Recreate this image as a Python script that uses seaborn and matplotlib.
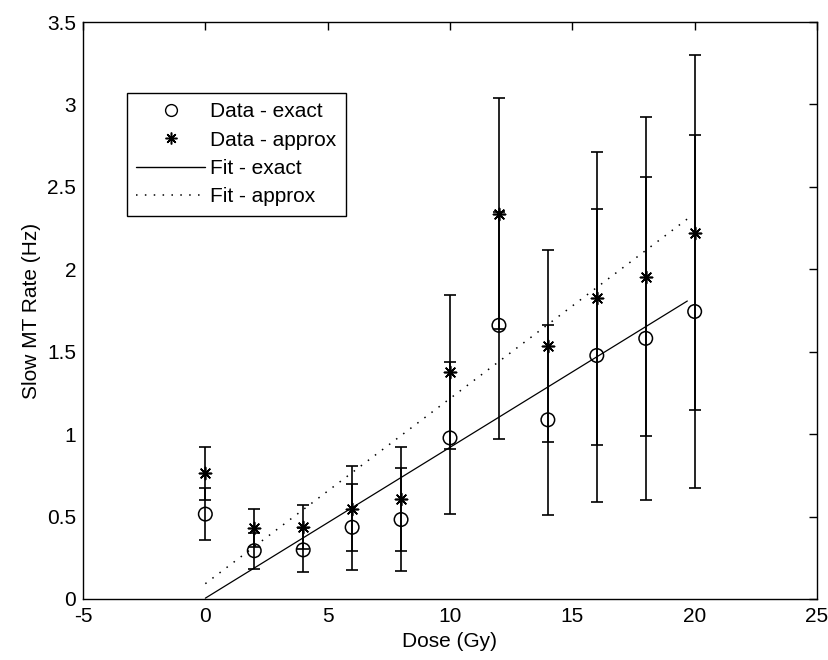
import numpy as np
import pandas as pd
import matplotlib
matplotlib.use("Agg")
import matplotlib.pyplot as plt
from matplotlib.lines import Line2D
import seaborn as sns

# ---- data ----
dose = [0, 2, 4, 6, 8, 10, 12, 14, 16, 18, 20]
rate_exact = [0.515, 0.293, 0.298, 0.435, 0.482, 0.977, 1.660, 1.087, 1.477, 1.581, 1.744]
err_exact = [0.160, 0.108, 0.132, 0.260, 0.315, 0.460, 0.690, 0.575, 0.887, 0.980, 1.070]
rate_approx = [0.763, 0.431, 0.437, 0.548, 0.608, 1.375, 2.338, 1.535, 1.823, 1.956, 2.223]
err_approx = [0.160, 0.114, 0.131, 0.257, 0.315, 0.467, 0.700, 0.583, 0.889, 0.970, 1.075]

fit_dose = [0.0, 19.7]
fit_exact_intercept, fit_exact_slope = 0.005, 0.0915
fit_approx_intercept, fit_approx_slope = 0.093, 0.1123

x_ticks = [-5, 0, 5, 10, 15, 20, 25]
y_ticks = [0, 0.5, 1, 1.5, 2, 2.5, 3, 3.5]
y_tick_labels = ["0", "0.5", "1", "1.5", "2", "2.5", "3", "3.5"]
legend_labels = ["Data - exact", "Data - approx", "Fit - exact", "Fit - approx"]

df = pd.DataFrame({"dose": dose, "exact": rate_exact, "approx": rate_approx,
                   "err_exact": err_exact, "err_approx": err_approx})
fit_df = pd.DataFrame({"dose": fit_dose})
fit_df["exact"] = fit_exact_intercept + fit_exact_slope * fit_df["dose"]
fit_df["approx"] = fit_approx_intercept + fit_approx_slope * fit_df["dose"]

# ---- style ----
sns.set_theme(style="white")
plt.rcParams["font.family"] = ["Liberation Sans", "DejaVu Sans"]
FS = 15
plt.rcParams.update({
    "axes.edgecolor": "black",
    "axes.linewidth": 1.0,
    "xtick.color": "black",
    "ytick.color": "black",
    "text.color": "black",
    "axes.labelcolor": "black",
})

fig = plt.figure(figsize=(8.29, 6.60), dpi=100)
ax = fig.add_axes([83 / 829, 61 / 660, 734 / 829, 577 / 660])

# error bars
ax.errorbar(df["dose"], df["exact"], yerr=df["err_exact"], fmt="none",
            ecolor="black", elinewidth=1.2, capsize=4.2, capthick=1.2, zorder=2)
ax.errorbar(df["dose"], df["approx"], yerr=df["err_approx"], fmt="none",
            ecolor="black", elinewidth=1.2, capsize=4.2, capthick=1.2, zorder=2)

# fits
sns.lineplot(data=fit_df, x="dose", y="exact", ax=ax, color="black",
             linewidth=0.9, zorder=3)
sns.lineplot(data=fit_df, x="dose", y="approx", ax=ax, color="black",
             linewidth=1.1, linestyle=(0, (1, 4.8)), zorder=3)

# markers
star = (8, 2, 0)
sns.scatterplot(data=df, x="dose", y="exact", ax=ax, marker="o", s=95,
                facecolors="none", edgecolor="black", linewidth=1.1, zorder=4)
sns.scatterplot(data=df, x="dose", y="approx", ax=ax, marker=star, s=75,
                color="black", edgecolor="black", linewidth=1.2, zorder=4)

ax.set_xlim(-5, 25)
ax.set_ylim(0, 3.5)
ax.set_xticks(x_ticks)
ax.set_xticklabels([str(t) for t in x_ticks])
ax.set_yticks(y_ticks)
ax.set_yticklabels(y_tick_labels)
ax.tick_params(direction="in", length=5.8, width=1.0, top=True, right=True,
               labelsize=FS, pad=5)
ax.tick_params(axis="x", pad=6)
for s in ax.spines.values():
    s.set_visible(True)
    s.set_color("black")
ax.set_xlabel("Dose (Gy)", fontsize=FS, labelpad=4)
ax.set_ylabel("Slow MT Rate (Hz)", fontsize=FS, labelpad=4)

handles = [
    Line2D([], [], linestyle="none", marker="o", markersize=8.5,
           markerfacecolor="none", markeredgecolor="black", markeredgewidth=1.0),
    Line2D([], [], linestyle="none", marker=star, markersize=8.5,
           color="black", markeredgewidth=1.1),
    Line2D([], [], color="black", linewidth=1.0),
    Line2D([], [], color="black", linewidth=1.1, linestyle=(0, (1, 4.8))),
]
leg = ax.legend(handles, legend_labels, loc="upper left",
                bbox_to_anchor=((127 - 83) / 734, (599 - 93) / 577),
                borderaxespad=0, fontsize=FS, frameon=True, fancybox=False,
                framealpha=1, edgecolor="black", handlelength=3.3,
                handletextpad=0.25, labelspacing=0.45, borderpad=0.45,
                numpoints=1)
leg.get_frame().set_linewidth(1.0)

fig.savefig("out.png", dpi=100, facecolor="white")
